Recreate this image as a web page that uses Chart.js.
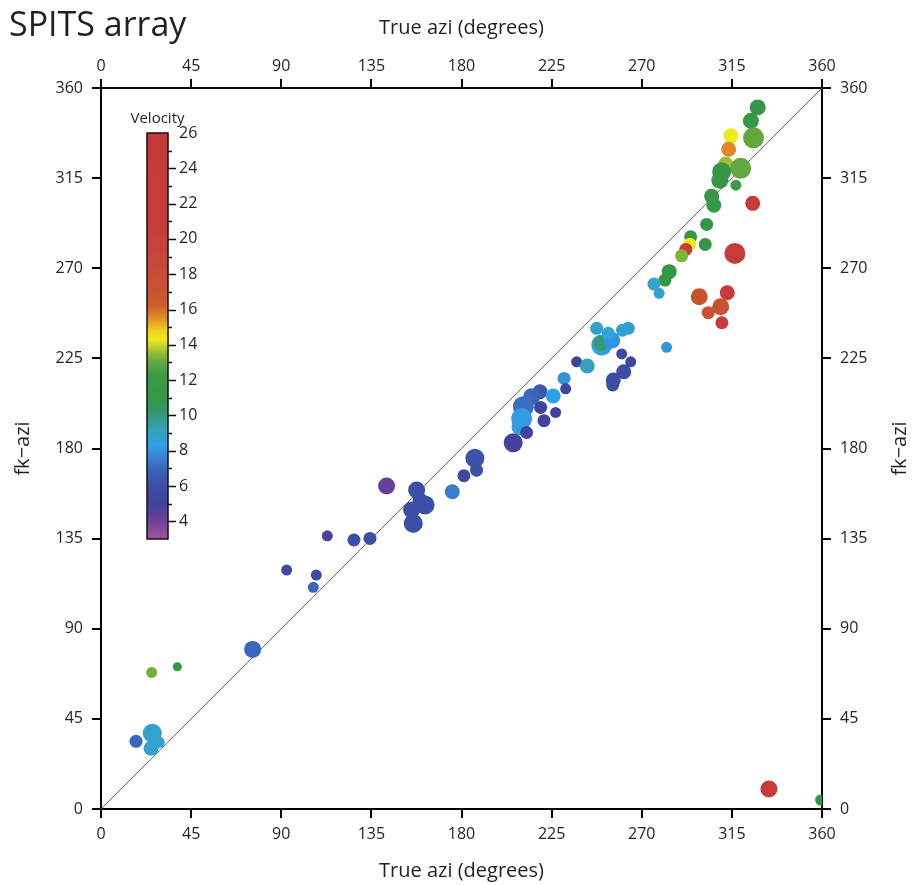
<!DOCTYPE html>
<html>
<head>
<meta charset="utf-8">
<title>SPITS array</title>
<script src="https://cdn.jsdelivr.net/npm/chart.js@4.4.0/dist/chart.umd.min.js"></script>
<style>
  body { margin: 0; background: #fff; }
  #wrap { width: 912px; height: 885px; }
</style>
</head>
<body>
<div id="wrap"><canvas id="chart" width="912" height="885"></canvas></div>
<script>
// values (degrees, velocity, dot size)
const trueAzi = [
  327.9, 324.5, 325.8, 314.5, 313.4, 311.9, 319.4, 309.9, 309.0, 317.0,
  325.4, 304.9, 306.0, 302.4, 294.4, 294.0, 292.0, 301.7, 289.9, 316.5,
  283.7, 281.6, 276.1, 278.7, 298.7, 312.7, 309.4, 303.2, 310.0, 282.4,
  247.5, 260.4, 263.3, 250.0, 249.6, 255.0, 253.3, 260.0, 264.5, 261.0,
  255.8, 255.5, 237.5, 242.8, 231.2, 232.0, 219.2, 225.8, 215.0, 210.9,
  210.0, 209.2, 219.5, 221.2, 227.0, 212.5, 205.8, 186.7, 187.5, 181.2,
  175.4, 142.6, 157.6, 161.8, 155.1, 155.9, 159.3, 113.0, 126.3, 134.3,
  92.7, 107.5, 106.0, 75.7, 25.3, 38.1, 17.5, 25.6, 29.1, 25.0,
  333.5, 359.3
];
const fkAzi = [
  350.3, 343.6, 335.1, 336.1, 329.4, 322.0, 319.9, 318.2, 314.0, 311.5,
  302.4, 306.0, 301.5, 291.9, 285.7, 282.0, 279.4, 281.9, 276.2, 277.4,
  268.3, 264.1, 262.1, 257.5, 255.8, 257.8, 250.8, 247.8, 242.8, 230.5,
  240.0, 239.1, 240.0, 231.7, 232.5, 234.0, 237.5, 227.2, 223.3, 218.3,
  214.2, 211.7, 223.3, 221.2, 215.0, 209.8, 208.3, 206.2, 205.8, 200.9,
  195.0, 190.9, 200.5, 193.9, 198.0, 188.0, 182.9, 175.1, 169.2, 166.4,
  158.4, 161.3, 159.3, 151.8, 149.3, 142.6, 154.3, 136.4, 134.3, 135.1,
  119.3, 116.8, 110.7, 79.7, 68.2, 71.0, 33.8, 37.8, 33.3, 30.3,
  10.0, 4.5
];
const velocity = [
  11, 11, 13, 14.3, 15.6, 13.6, 13, 11, 11, 12,
  22, 11, 11.5, 11, 11, 14.3, 21, 11, 13.3, 22,
  11, 11, 8.8, 8.8, 17, 21, 17, 17, 22, 8,
  8.8, 8.8, 8.8, 8.6, 10, 8, 8.5, 5.5, 5.5, 5.8,
  5.8, 5.8, 5, 9, 8, 5, 6.5, 8.3, 7, 7.2,
  8.2, 8.2, 5, 5, 5, 5, 5, 6.2, 6, 5.5,
  7.5, 4.2, 6, 6, 6, 6, 6, 4.8, 6, 6,
  5.5, 5.5, 7, 7, 13.2, 11, 7, 8.8, 8.8, 8.8,
  22, 11
];
const dotSize = [
  8, 8, 10.5, 7.5, 7.5, 7.5, 10.5, 9.5, 8.5, 5.5,
  7.5, 7.5, 7.5, 6.5, 6.5, 6.5, 6.5, 6.5, 6.5, 10.5,
  7.5, 6.5, 6.5, 5.5, 8.5, 7.5, 8.5, 6.5, 6.5, 5.5,
  6.5, 6.5, 6.5, 10.5, 7.5, 8.5, 6.5, 5.5, 5.5, 7.5,
  7.5, 6.5, 5.5, 7.5, 6.5, 5.5, 7.5, 7.5, 8.5, 10.5,
  10.5, 8.5, 6.5, 6.5, 5.5, 6.5, 9.5, 9.5, 6.5, 6.5,
  7.5, 8.5, 8.5, 9.5, 8.5, 9.5, 7.5, 5.5, 6.5, 6.5,
  5.5, 5.5, 5.5, 8.5, 5.5, 4.5, 6.5, 9.5, 5.5, 7.5,
  8.5, 5.5
];
const axisTicks = [0, 45, 90, 135, 180, 225, 270, 315, 360];
const velocityTicks = [4, 6, 8, 10, 12, 14, 16, 18, 20, 22, 24, 26];
const velocityMin = 3;
const velocityMax = 26;

// colour scale of the velocity bar
const colorStops = [
  [3.0, '#a2559f'], [4.2, '#663f98'], [5.0, '#41439c'], [6.0, '#3b4fa6'],
  [7.0, '#3a66bb'], [7.6, '#3a80d2'], [8.3, '#2ea2e6'], [9.3, '#37a0b4'],
  [10.2, '#31976a'], [11.0, '#349646'], [12.3, '#3d9b44'], [13.0, '#62a83e'],
  [13.6, '#9cc034'], [14.3, '#f0ea1c'], [14.8, '#eed01e'], [15.5, '#e08f26'],
  [16.2, '#cf5f2c'], [17.0, '#c9532f'], [19.0, '#c8463a'], [21.0, '#c83b3a'],
  [26.0, '#c8373a']
];

function hexToRgb(h) {
  return [parseInt(h.slice(1, 3), 16), parseInt(h.slice(3, 5), 16), parseInt(h.slice(5, 7), 16)];
}

function velocityColor(v) {
  if (v <= colorStops[0][0]) return colorStops[0][1];
  for (let i = 1; i < colorStops.length; i++) {
    const [v1, c1] = colorStops[i];
    if (v <= v1) {
      const [v0, c0] = colorStops[i - 1];
      const t = (v - v0) / (v1 - v0);
      const a = hexToRgb(c0), b = hexToRgb(c1);
      const rgb = a.map((x, k) => Math.round(x + (b[k] - x) * t));
      return `rgb(${rgb[0]}, ${rgb[1]}, ${rgb[2]})`;
    }
  }
  return colorStops[colorStops.length - 1][1];
}

const points = trueAzi.map((x, i) => ({ x: x, y: fkAzi[i] }));
const textColor = '#231f20';
const fontFamily = "'Open Sans', 'DejaVu Sans', sans-serif";

Chart.defaults.font.family = fontFamily;

function makeAxis(position, size, title, titlePadding) {
  return {
    type: 'linear',
    position: position,
    min: 0,
    max: 360,
    afterBuildTicks: function (scale) {
      scale.ticks = axisTicks.map(v => ({ value: v }));
    },
    afterFit: function (scale) {
      if (position === 'left' || position === 'right') scale.width = size;
      else scale.height = size;
    },
    grid: { drawOnChartArea: false, drawTicks: true, tickLength: 9, color: '#000', lineWidth: 2 },
    border: { display: true, color: '#000', width: 2 },
    ticks: {
      color: textColor,
      font: { size: 16 },
      padding: (position === 'top') ? 3 : (position === 'bottom' ? 7 : 9),
      maxRotation: 0,
      autoSkip: false
    },
    title: {
      display: !!title,
      text: title,
      color: textColor,
      font: { size: 20 },
      padding: titlePadding
    }
  };
}

// heading, right-hand axis title (reads upwards) and the velocity bar
const extras = {
  id: 'extras',
  afterDatasetsDraw(chart) {
    const c = chart.ctx;
    c.save();
    c.fillStyle = textColor;

    c.font = '34px ' + fontFamily;
    c.textAlign = 'left';
    c.textBaseline = 'alphabetic';
    c.fillText('SPITS array', 9, 36);

    c.save();
    c.font = '20px ' + fontFamily;
    c.translate(906, (chart.chartArea.top + chart.chartArea.bottom) / 2);
    c.rotate(-Math.PI / 2);
    c.textAlign = 'center';
    c.fillText('fk\u2212azi', 0, 0);
    c.restore();

    // velocity colour bar
    const left = 147, right = 168, top = 133, bottom = 539;
    const yOf = v => top + (velocityMax - v) / (velocityMax - velocityMin) * (bottom - top);
    const grad = c.createLinearGradient(0, top, 0, bottom);
    colorStops.forEach(([v, col]) => {
      grad.addColorStop((velocityMax - v) / (velocityMax - velocityMin), col);
    });
    c.fillStyle = grad;
    c.fillRect(left, top, right - left, bottom - top);
    c.strokeStyle = '#111';
    c.lineWidth = 1.5;
    c.strokeRect(left, top, right - left, bottom - top);

    c.lineWidth = 1.5;
    c.beginPath();
    for (let v = 4; v <= 25; v++) {
      const y = Math.round(yOf(v)) + 0.5;
      const len = (v % 2 === 0) ? 8 : 4;
      c.moveTo(right, y);
      c.lineTo(right + len, y);
    }
    c.stroke();

    c.fillStyle = textColor;
    c.font = '16px ' + fontFamily;
    c.textAlign = 'left';
    c.textBaseline = 'middle';
    velocityTicks.forEach(v => c.fillText(String(v), right + 11, yOf(v)));

    c.font = '15px ' + fontFamily;
    c.textAlign = 'center';
    c.textBaseline = 'alphabetic';
    c.fillText('Velocity', (left + right) / 2, top - 10);

    c.restore();
  }
};

new Chart(document.getElementById('chart'), {
  data: {
    datasets: [
      {
        type: 'scatter',
        data: points,
        xAxisID: 'x',
        yAxisID: 'y',
        order: 0,
        clip: 0,
        pointRadius: ctx => dotSize[ctx.dataIndex],
        pointBackgroundColor: ctx => velocityColor(velocity[ctx.dataIndex]),
        pointBorderWidth: 0
      },
      {
        type: 'line',
        data: [{ x: axisTicks[0], y: axisTicks[0] }, { x: axisTicks[8], y: axisTicks[8] }],
        xAxisID: 'x',
        yAxisID: 'y',
        order: 1,
        borderColor: '#6b6b6b',
        borderWidth: 1,
        pointRadius: 0
      }
    ]
  },
  options: {
    responsive: false,
    animation: false,
    devicePixelRatio: 1,
    events: [],
    layout: { padding: 0 },
    plugins: { legend: { display: false }, tooltip: { enabled: false } },
    scales: {
      x: makeAxis('bottom', 76, 'True azi (degrees)', { top: 0, bottom: 2 }),
      x2: makeAxis('top', 88, 'True azi (degrees)', { top: 16, bottom: 0 }),
      y: makeAxis('left', 101, 'fk\u2212azi', { top: 11, bottom: 0 }),
      y2: makeAxis('right', 90, '', { top: 0, bottom: 0 })
    }
  },
  plugins: [extras]
});
</script>
</body>
</html>
